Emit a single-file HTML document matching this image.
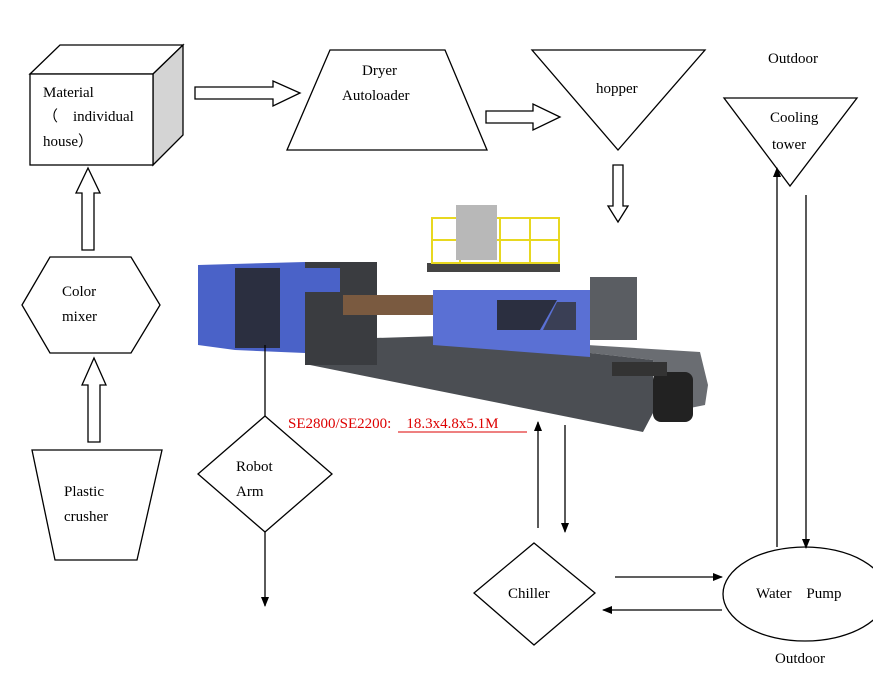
<!DOCTYPE html>
<html><head><meta charset="utf-8"><style>
html,body{margin:0;padding:0;background:#fff}
svg{display:block}
text{font-family:"Liberation Serif",serif;font-size:15px;fill:#000}
</style></head><body>
<svg width="873" height="682" viewBox="0 0 873 682" xmlns="http://www.w3.org/2000/svg">
<defs><marker id="ah" markerWidth="10" markerHeight="10" refX="9" refY="5" orient="auto" markerUnits="userSpaceOnUse"><path d="M0,1 L10,5 L0,9 Z" fill="#000"/></marker></defs>
<g stroke="#000" stroke-width="1.3" fill="#fff">
<polygon points="30,74 60,45 183,45 153,74"/>
<polygon points="153,74 183,45 183,135 153,165" fill="#d4d4d4"/>
<rect x="30" y="74" width="123" height="91"/>
<polygon points="195,87 273,87 273,81 300,93 273,106 273,99 195,99"/>
<polygon points="486,111 533,111 533,104 560,117 533,130 533,123 486,123"/>
<polygon points="613,165 623,165 623,206 628,206 618,222 608,206 613,206"/>
<polygon points="82,250 94,250 94,193 100,193 88,168 76,193 82,193"/>
<polygon points="88,442 100,442 100,385 106,385 94,358 82,385 88,385"/>
<polygon points="330,50 445,50 487,150 287,150"/>
<polygon points="532,50 705,50 618,150"/>
<polygon points="724,98 857,98 790,186"/>
<polygon points="22,305 50,257 131,257 160,305 131,353 50,353"/>
<polygon points="32,450 162,450 137,560 55,560"/>
<polygon points="265,416 332,474 265,532 198,474"/>
<polygon points="534,543 595,593 534,645 474,593"/>
<ellipse cx="805" cy="594" rx="82" ry="47"/>
</g>
<!-- machine -->
<g>
<polygon points="440,336 700,352 708,385 705,405 655,415 653,360" fill="#6a6d72"/>
<polygon points="310,340 440,336 653,360 653,413 643,432 310,365" fill="#4b4e53"/>
<rect x="305" y="262" width="72" height="103" fill="#3a3c40"/>
<rect x="343" y="295" width="95" height="20" fill="#7a5a40"/>
<polygon points="198,265 305,262 305,353 235,350 198,345" fill="#4a62c8"/>
<rect x="235" y="268" width="45" height="80" fill="#2b2f40"/>
<rect x="305" y="268" width="35" height="24" fill="#4a62c8"/>
<polygon points="433,290 590,290 590,357 433,345" fill="#5a70d4"/>
<polygon points="497,300 557,300 540,330 497,330" fill="#2b2f40"/>
<polygon points="557,302 576,302 576,330 543,330" fill="#3a3f55"/>
<rect x="590" y="277" width="47" height="63" fill="#5a5d62"/>
<rect x="427" y="263" width="133" height="9" fill="#444"/>
<g stroke="#e8d820" stroke-width="2" fill="none">
<rect x="432" y="218" width="127" height="45"/>
<line x1="432" y1="240" x2="559" y2="240"/>
<line x1="460" y1="218" x2="460" y2="263"/><line x1="500" y1="218" x2="500" y2="263"/><line x1="530" y1="218" x2="530" y2="263"/>
</g>
<rect x="456" y="205" width="41" height="55" fill="#b8b8b8"/>
<rect x="653" y="372" width="40" height="50" rx="8" fill="#222"/>
<rect x="612" y="362" width="55" height="14" fill="#333"/>
</g>
<g stroke="#000" stroke-width="1.3" fill="none">
<line x1="265" y1="345" x2="265" y2="416"/>
<line x1="265" y1="532" x2="265" y2="606" marker-end="url(#ah)"/>
<line x1="538" y1="528" x2="538" y2="422" marker-end="url(#ah)"/>
<line x1="565" y1="425" x2="565" y2="532" marker-end="url(#ah)"/>
<line x1="615" y1="577" x2="722" y2="577" marker-end="url(#ah)"/>
<line x1="722" y1="610" x2="603" y2="610" marker-end="url(#ah)"/>
<line x1="777" y1="547" x2="777" y2="168" marker-end="url(#ah)"/>
<line x1="806" y1="195" x2="806" y2="548" marker-end="url(#ah)"/>
</g>
<line x1="398" y1="432" x2="527" y2="432" stroke="#d00" stroke-width="1"/>
<text x="43" y="97">Material</text>
<text x="43" y="121">（　individual</text>
<text x="43" y="146">house）</text>
<text x="362" y="75">Dryer</text>
<text x="342" y="100">Autoloader</text>
<text x="596" y="93">hopper</text>
<text x="768" y="63">Outdoor</text>
<text x="770" y="122">Cooling</text>
<text x="772" y="149">tower</text>
<text x="62" y="296">Color</text>
<text x="62" y="321">mixer</text>
<text x="64" y="496">Plastic</text>
<text x="64" y="521">crusher</text>
<text x="236" y="471">Robot</text>
<text x="236" y="496">Arm</text>
<text x="288" y="428" style="fill:#d00">SE2800/SE2200:　18.3x4.8x5.1M</text>
<text x="508" y="598">Chiller</text>
<text x="756" y="598">Water　Pump</text>
<text x="775" y="663">Outdoor</text>
</svg>
</body></html>
